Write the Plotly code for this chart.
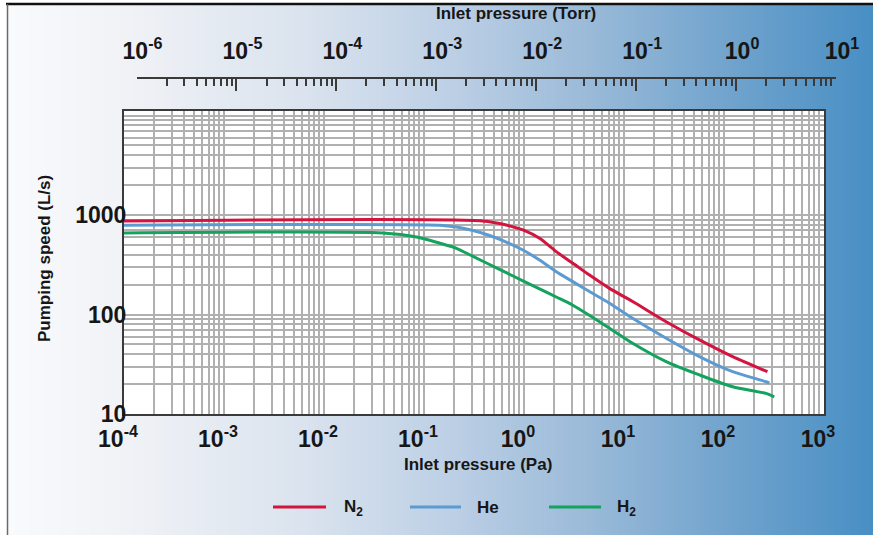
import base64
import struct
import zlib
import plotly.graph_objects as go

# ---------------- data ----------------
n2_pa = [1e-4, 0.385, 0.665, 0.975, 1.43, 2.10, 3.08, 4.52, 7.16, 12.2, 26.4, 56.8, 122, 272]
n2_speed = [870, 870, 793, 707, 583, 428, 327, 249, 183, 135, 84.7, 55.5, 37.7, 26.6]

he_pa = [1e-4, 0.144, 0.211, 0.309, 0.453, 0.665, 0.975, 1.43, 2.10, 3.08, 4.52, 7.16,
         12.2, 26.4, 56.8, 122, 263, 284]
he_speed = [790, 790, 757, 698, 622, 535, 445, 353, 269, 214, 170, 130,
            91.6, 57.7, 37.7, 26.6, 21.1, 20.4]

h2_pa = [1e-4, 0.0386, 0.0845, 0.144, 0.211, 0.309, 0.453, 0.665, 0.975, 1.43, 2.10, 3.08,
         5.69, 12.2, 26.4, 56.8, 122, 263, 318]
h2_speed = [660, 660, 601, 520, 463, 383, 318, 263, 218, 181, 150, 124,
            84.7, 51.4, 33.6, 24.7, 18.8, 16.1, 14.9]

series_names = ["N<sub>2</sub>", "He", "H<sub>2</sub>"]
series_colors = ["#d3143f", "#5b9bd2", "#13a35e"]

pa_tickvals = [1e-4, 1e-3, 1e-2, 1e-1, 1, 10, 100, 1000]
pa_ticktext = ["10<sup>-4</sup>", "10<sup>-3</sup>", "10<sup>-2</sup>", "10<sup>-1</sup>",
               "10<sup>0</sup>", "10<sup>1</sup>", "10<sup>2</sup>", "10<sup>3</sup>"]
torr_tickvals = [1e-6, 1e-5, 1e-4, 1e-3, 1e-2, 1e-1, 1, 10]
torr_ticktext = ["10<sup>-6</sup>", "10<sup>-5</sup>", "10<sup>-4</sup>", "10<sup>-3</sup>",
                 "10<sup>-2</sup>", "10<sup>-1</sup>", "10<sup>0</sup>", "10<sup>1</sup>"]
speed_tickvals = [10, 100, 1000]
speed_ticktext = ["10", "100", "1000"]

pa_minor = [m * 10.0 ** e for e in range(-4, 3) for m in range(2, 10)]
torr_minor = [m * 10.0 ** e for e in range(-6, 1) for m in range(2, 10)]
speed_minor = [m * 10.0 ** e for e in range(1, 4) for m in range(2, 10)] + [10000]

# ---------------- geometry ----------------
W, H = 873, 535
L, R, T, B = 124, 37, 78, 121
PW, PH = W - L - R, H - T - B


def px(x):
    return (x - L) / PW


def py(y):
    return (H - B - y) / PH


# ---------------- background gradient as PNG ----------------
stops = [(0, (249, 250, 252)), (120, (240, 242, 246)), (300, (218, 227, 238)),
         (450, (188, 207, 229)), (600, (150, 184, 215)), (730, (112, 163, 205)),
         (873, (72, 143, 196))]


def grad(x):
    for (x0, c0), (x1, c1) in zip(stops[:-1], stops[1:]):
        if x0 <= x <= x1:
            t = (x - x0) / (x1 - x0)
            return tuple(int(round(a + (b - a) * t)) for a, b in zip(c0, c1))
    return stops[-1][1]


def make_png(w, h):
    row = bytearray()
    for x in range(w):
        row.extend(grad(x))
    raw = b"".join(b"\x00" + bytes(row) for _ in range(h))

    def chunk(tp, data):
        return (struct.pack(">I", len(data)) + tp + data
                + struct.pack(">I", zlib.crc32(tp + data) & 0xFFFFFFFF))

    ihdr = struct.pack(">IIBBBBB", w, h, 8, 2, 0, 0, 0)
    png = (b"\x89PNG\r\n\x1a\n" + chunk(b"IHDR", ihdr)
           + chunk(b"IDAT", zlib.compress(raw, 9)) + chunk(b"IEND", b""))
    return "data:image/png;base64," + base64.b64encode(png).decode()


bg_src = make_png(W, 4)

FONT = "Liberation Sans, Arial, sans-serif"
TXT = "#161616"
GRID = "#b0b0b0"
LINE = "#3a3a3a"
TICKSIZE = 23

fig = go.Figure()
for xs, ys, name, col in zip([n2_pa, he_pa, h2_pa], [n2_speed, he_speed, h2_speed],
                             series_names, series_colors):
    fig.add_trace(go.Scatter(x=xs, y=ys, mode="lines", name=name, showlegend=False,
                             line=dict(color=col, width=3, shape="spline", smoothing=0.7),
                             hoverinfo="skip"))

# empty trace to carry the Torr axis
fig.add_trace(go.Scatter(x=[], y=[], xaxis="x2", yaxis="y2", showlegend=False,
                         hoverinfo="skip"))

fig.update_layout(
    width=W, height=H,
    margin=dict(l=L, r=R, t=T, b=B, pad=0),
    paper_bgcolor="white",
    plot_bgcolor="rgba(0,0,0,0)",
    font=dict(family=FONT, color=TXT),
    xaxis=dict(type="log", range=[-4, 3], domain=[0, 700 / PW],
               tickvals=pa_tickvals, ticktext=pa_ticktext, ticks="",
               tickfont=dict(size=TICKSIZE, family=FONT, color=TXT, weight="bold"),
               ticklabelshift=-6, ticklabelstandoff=3,
               showgrid=True, gridcolor=GRID, gridwidth=2,
               minor=dict(tickvals=pa_minor, showgrid=True, gridcolor=GRID, gridwidth=2, ticks=""),
               showline=True, linecolor=LINE, linewidth=2, mirror=True,
               zeroline=False, anchor="y", fixedrange=True),
    yaxis=dict(type="log", range=[1, 1 + 303 / 99.5], domain=[0, 303 / PH],
               tickvals=speed_tickvals, ticktext=speed_ticktext, ticks="",
               tickfont=dict(size=TICKSIZE, family=FONT, color=TXT, weight="bold"),
               ticklabelstandoff=-9,
               showgrid=True, gridcolor=GRID, gridwidth=2,
               minor=dict(tickvals=speed_minor, showgrid=True, gridcolor=GRID, gridwidth=2, ticks=""),
               showline=True, linecolor=LINE, linewidth=2, mirror=True,
               zeroline=False, anchor="x", fixedrange=True),
    xaxis2=dict(type="log", range=[-6, 1], domain=[12.5 / PW, 1],
                anchor="free", position=1, side="top",
                tickvals=torr_tickvals, ticktext=torr_ticktext,
                ticks="inside", ticklen=12, tickwidth=2, tickcolor=LINE,
                tickfont=dict(size=TICKSIZE, family=FONT, color=TXT, weight="bold"),
                ticklabelshift=6, ticklabelstandoff=9,
                minor=dict(tickvals=torr_minor, ticks="inside", ticklen=7, tickwidth=2,
                           tickcolor=LINE, showgrid=False),
                showgrid=False, showline=True, linecolor=LINE, linewidth=2,
                zeroline=False, fixedrange=True),
    yaxis2=dict(visible=False, domain=[0, 1], range=[0, 1], anchor="x2", fixedrange=True),
    images=[dict(source=bg_src, xref="paper", yref="paper",
                 x=px(8), y=py(5), sizex=px(W) - px(8), sizey=py(5) - py(H),
                 xanchor="left", yanchor="top", sizing="stretch", layer="below")],
)

shapes = [
    # white plot area
    dict(type="rect", xref="x domain", yref="y domain", x0=0, x1=1, y0=0, y1=1,
         fillcolor="white", line=dict(width=0), layer="below"),
    # outer frame (top + left)
    dict(type="line", xref="paper", yref="paper", x0=px(6), x1=px(W), y0=py(4), y1=py(4),
         line=dict(color="#111111", width=2.5), layer="above"),
    dict(type="line", xref="paper", yref="paper", x0=px(7.5), x1=px(7.5), y0=py(4), y1=py(H),
         line=dict(color="#6a6a6a", width=1.5), layer="above"),
]

annotations = [
    dict(text="Inlet pressure (Torr)", x=px(516), y=py(13), xref="paper", yref="paper",
         showarrow=False, xanchor="center", yanchor="middle",
         font=dict(size=17, family=FONT, color=TXT, weight="bold")),
    dict(text="Inlet pressure (Pa)", x=px(478), y=py(465), xref="paper", yref="paper",
         showarrow=False, xanchor="center", yanchor="middle",
         font=dict(size=17, family=FONT, color=TXT, weight="bold")),
    dict(text="Pumping speed (L/s)", x=px(44), y=py(259), xref="paper", yref="paper",
         showarrow=False, xanchor="center", yanchor="middle", textangle=-90,
         font=dict(size=17, family=FONT, color=TXT, weight="bold")),
]

# legend drawn by hand
legend_line_x = [(273, 326), (410, 461), (549, 601)]
legend_text_x = [342, 475, 615]
for (x0, x1), tx, name, col in zip(legend_line_x, legend_text_x, series_names, series_colors):
    shapes.append(dict(type="line", xref="paper", yref="paper", x0=px(x0), x1=px(x1),
                       y0=py(507), y1=py(507), line=dict(color=col, width=3), layer="above"))
    annotations.append(dict(text=name, x=px(tx), y=py(508), xref="paper", yref="paper",
                            showarrow=False, xanchor="left", yanchor="middle",
                            font=dict(size=17, family=FONT, color=TXT, weight="bold")))

fig.update_layout(shapes=shapes, annotations=annotations)

fig.write_html("out.html")
